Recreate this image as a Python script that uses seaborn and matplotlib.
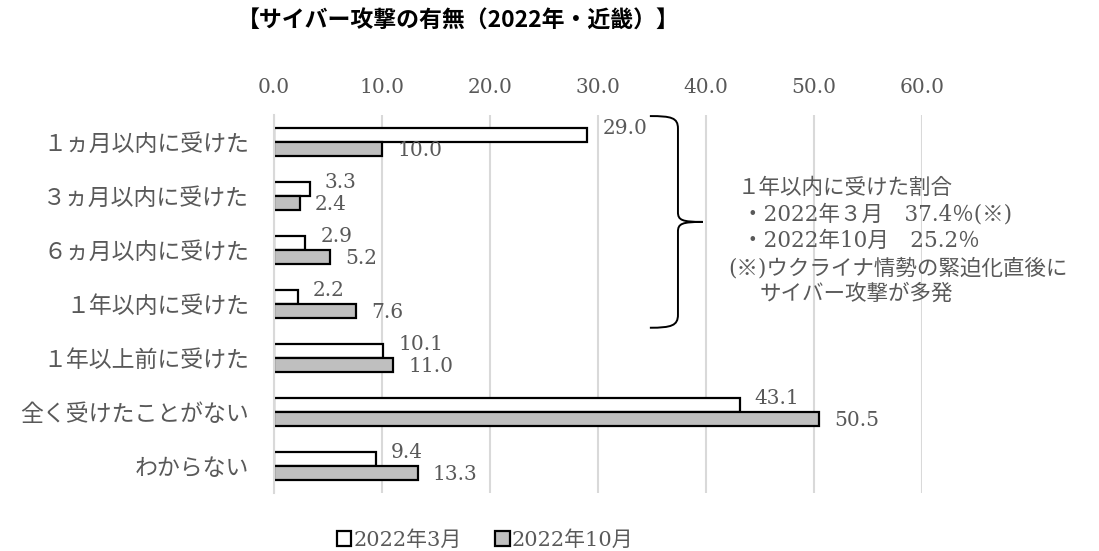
import pandas as pd
import matplotlib.pyplot as plt
from matplotlib.path import Path
from matplotlib.patches import PathPatch
import seaborn as sns

# データ
categories = ["１ヵ月以内に受けた", "３ヵ月以内に受けた", "６ヵ月以内に受けた", "１年以内に受けた",
              "１年以上前に受けた", "全く受けたことがない", "わからない"]
mar_2022 = [29.0, 3.3, 2.9, 2.2, 10.1, 43.1, 9.4]
oct_2022 = [10.0, 2.4, 5.2, 7.6, 11.0, 50.5, 13.3]
series_names = ["2022年3月", "2022年10月"]
x_ticks = [0, 10, 20, 30, 40, 50, 60]

note_lines = ["１年以内に受けた割合",
              "・2022年３月　37.4％(※)",
              "・2022年10月　25.2％",
              "(※)ウクライナ情勢の緊迫化直後に",
              "サイバー攻撃が多発"]

df = pd.DataFrame({
    "項目": categories * 2,
    "値": mar_2022 + oct_2022,
    "時期": [series_names[0]] * len(categories) + [series_names[1]] * len(categories),
})

sns.set_style("white")
jp = ["Noto Sans CJK JP", "DejaVu Sans"]
num = ["DejaVu Serif", "Noto Sans CJK JP"]
txt_color = "#595959"

fig = plt.figure(figsize=(10.99, 5.51), dpi=100)
ax = fig.add_axes([0.2493, 0.1053, 0.5897, 0.686])

sns.barplot(data=df, y="項目", x="値", hue="時期", hue_order=series_names,
            palette={series_names[0]: "white", series_names[1]: "#bfbfbf"},
            edgecolor="black", linewidth=1.6, width=0.52, gap=0, ax=ax,
            orient="h", legend=True)

ax.set_xlim(0, 60)
ax.set_ylim(6.5, -0.5)
ax.xaxis.tick_top()
ax.set_xticks(x_ticks)
ax.set_xticklabels([f"{v:.1f}" for v in x_ticks], family=num, fontsize=14.5, color=txt_color)
ax.set_yticks(range(len(categories)))
ax.set_yticklabels(categories, family=jp, fontsize=16.5, color=txt_color)
ax.tick_params(axis="x", length=0, pad=13)
ax.tick_params(axis="y", length=0, pad=18)
ax.set_xlabel("")
ax.set_ylabel("")
ax.grid(axis="x", color="#d9d9d9", linewidth=1.5)
ax.set_axisbelow(True)
for s in ["top", "right", "bottom"]:
    ax.spines[s].set_visible(False)
ax.spines["left"].set_color("#d9d9d9")
ax.spines["left"].set_linewidth(1.5)

# データラベル
for cont, dy in zip(ax.containers, [5, -1]):
    for bar, v in zip(cont, cont.datavalues):
        y = bar.get_y() + bar.get_height() / 2
        ax.annotate(f"{v:.1f}", (v, y), xytext=(11, dy), textcoords="offset points",
                    ha="left", va="center", family=num, fontsize=14.5, color=txt_color)

# 中括弧
verts = [(34.8, -0.48), (36.8, -0.48), (37.4, -0.45), (37.4, -0.25),
         (37.4, 1.3),
         (37.4, 1.45), (37.8, 1.48), (39.7, 1.48),
         (37.8, 1.48), (37.4, 1.51), (37.4, 1.66),
         (37.4, 3.2),
         (37.4, 3.4), (36.8, 3.44), (34.8, 3.44)]
codes = [Path.MOVETO, Path.CURVE4, Path.CURVE4, Path.CURVE4,
         Path.LINETO,
         Path.CURVE4, Path.CURVE4, Path.CURVE4,
         Path.CURVE4, Path.CURVE4, Path.CURVE4,
         Path.LINETO,
         Path.CURVE4, Path.CURVE4, Path.CURVE4]
ax.add_patch(PathPatch(Path(verts, codes), facecolor="none", edgecolor="black",
                       linewidth=1.4, clip_on=False))

# 注記
note_pos = [(738, 188), (742, 214), (742, 241), (728, 268), (760, 294)]
for line, (px, py) in zip(note_lines, note_pos):
    fig.text(px / 1099, 1 - py / 551, line, family=num, fontsize=15.5,
             color=txt_color, ha="left", va="center")

# タイトル
fig.text(237 / 1099, 1 - 21 / 551, "【サイバー攻撃の有無（2022年・近畿）】",
         family=jp, fontsize=16.5, fontweight="bold", color="black",
         ha="left", va="center")

# 凡例
handles, labels = ax.get_legend_handles_labels()
ax.get_legend().remove()
fig.legend(handles, labels, loc="center", bbox_to_anchor=(485 / 1099, 1 - 540 / 551),
           ncol=2, frameon=False, handlelength=0.7, handleheight=0.7,
           handletextpad=0.1, columnspacing=1.6,
           prop={"family": num, "size": 15}, labelcolor=txt_color)

fig.savefig("out.png", dpi=100)
